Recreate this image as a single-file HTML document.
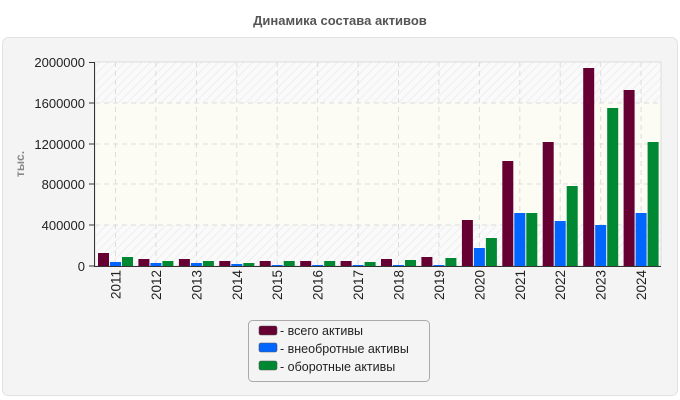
<!DOCTYPE html><html><head><meta charset="utf-8"><style>body{margin:0;background:#fff}svg{display:block;font-family:"Liberation Sans",sans-serif}</style></head><body>
<svg width="680" height="400" xmlns="http://www.w3.org/2000/svg">
<defs><pattern id="h" width="6" height="6" patternUnits="userSpaceOnUse" patternTransform="rotate(-45)"><rect width="6" height="6" fill="#fafafa"/><line x1="0" y1="0" x2="6" y2="0" stroke="#eeeeee" stroke-width="2"/></pattern></defs>
<text x="340" y="25" text-anchor="middle" font-size="13" font-weight="bold" fill="#555">Динамика состава активов</text>
<rect x="2.5" y="37.5" width="675" height="358" rx="6" fill="#f4f4f4" stroke="#e2e2e2"/>
<rect x="95" y="62" width="566" height="204" fill="url(#h)"/>
<rect x="95" y="103" width="566" height="122" fill="#fcfcf4"/>
<rect x="95" y="62" width="566" height="204" fill="none" stroke="#ddd"/>
<g stroke="#dcdcdc" stroke-dasharray="5,4">
<line x1="95" x2="661" y1="103" y2="103"/><line x1="95" x2="661" y1="144" y2="144"/><line x1="95" x2="661" y1="184" y2="184"/><line x1="95" x2="661" y1="225" y2="225"/>
<line x1="115.5" x2="115.5" y1="62" y2="266"/><line x1="155.9" x2="155.9" y1="62" y2="266"/><line x1="196.4" x2="196.4" y1="62" y2="266"/><line x1="236.8" x2="236.8" y1="62" y2="266"/><line x1="277.2" x2="277.2" y1="62" y2="266"/><line x1="317.7" x2="317.7" y1="62" y2="266"/><line x1="358.1" x2="358.1" y1="62" y2="266"/><line x1="398.5" x2="398.5" y1="62" y2="266"/><line x1="438.9" x2="438.9" y1="62" y2="266"/><line x1="479.4" x2="479.4" y1="62" y2="266"/><line x1="519.8" x2="519.8" y1="62" y2="266"/><line x1="560.2" x2="560.2" y1="62" y2="266"/><line x1="600.7" x2="600.7" y1="62" y2="266"/><line x1="641.1" x2="641.1" y1="62" y2="266"/>
</g>
<g fill="#660033">
<rect x="98" y="253" width="11" height="13"/><rect x="138.4" y="259" width="11" height="7"/><rect x="178.9" y="259" width="11" height="7"/><rect x="219.3" y="261" width="11" height="5"/><rect x="259.7" y="261" width="11" height="5"/><rect x="300.2" y="261" width="11" height="5"/><rect x="340.6" y="261" width="11" height="5"/><rect x="381" y="259" width="11" height="7"/><rect x="421.4" y="257" width="11" height="9"/><rect x="461.9" y="220" width="11" height="46"/><rect x="502.3" y="161" width="11" height="105"/><rect x="542.7" y="142" width="11" height="124"/><rect x="583.2" y="68" width="11" height="198"/><rect x="623.6" y="90" width="11" height="176"/>
</g>
<g fill="#0066ff">
<rect x="110" y="262" width="11" height="4"/><rect x="150.4" y="263" width="11" height="3"/><rect x="190.9" y="263" width="11" height="3"/><rect x="231.3" y="264" width="11" height="2"/><rect x="271.7" y="265" width="11" height="1"/><rect x="312.2" y="265" width="11" height="1"/><rect x="352.6" y="265" width="11" height="1"/><rect x="393" y="265" width="11" height="1"/><rect x="433.4" y="265" width="11" height="1"/><rect x="473.9" y="248" width="11" height="18"/><rect x="514.3" y="213" width="11" height="53"/><rect x="554.7" y="221" width="11" height="45"/><rect x="595.2" y="225" width="11" height="41"/><rect x="635.6" y="213" width="11" height="53"/>
</g>
<g fill="#008833">
<rect x="122" y="257" width="11" height="9"/><rect x="162.4" y="261" width="11" height="5"/><rect x="202.9" y="261" width="11" height="5"/><rect x="243.3" y="263" width="11" height="3"/><rect x="283.7" y="261" width="11" height="5"/><rect x="324.2" y="261" width="11" height="5"/><rect x="364.6" y="262" width="11" height="4"/><rect x="405" y="260" width="11" height="6"/><rect x="445.4" y="258" width="11" height="8"/><rect x="485.9" y="238" width="11" height="28"/><rect x="526.3" y="213" width="11" height="53"/><rect x="566.7" y="186" width="11" height="80"/><rect x="607.2" y="108" width="11" height="158"/><rect x="647.6" y="142" width="11" height="124"/>
</g>
<line x1="94.5" y1="62" x2="94.5" y2="266.5" stroke="#333"/><line x1="94" y1="266.5" x2="661" y2="266.5" stroke="#333"/>
<g stroke="#333"><line x1="89" x2="95" y1="62.5" y2="62.5"/><line x1="89" x2="95" y1="103" y2="103"/><line x1="89" x2="95" y1="144" y2="144"/><line x1="89" x2="95" y1="184" y2="184"/><line x1="89" x2="95" y1="225" y2="225"/><line x1="89" x2="95" y1="266" y2="266"/></g>
<g font-size="13" fill="#222" text-anchor="end">
<text x="85" y="67">2000000</text><text x="85" y="108">1600000</text><text x="85" y="149">1200000</text><text x="85" y="189">800000</text><text x="85" y="230">400000</text><text x="85" y="271">0</text></g>
<text transform="translate(24,164) rotate(-90)" text-anchor="middle" font-size="12" font-weight="bold" fill="#888">тыс.</text>
<g font-size="13.5" fill="#222" text-anchor="end">
<text transform="translate(120.5,270) rotate(-90)">2011</text><text transform="translate(160.9,270) rotate(-90)">2012</text><text transform="translate(201.4,270) rotate(-90)">2013</text><text transform="translate(241.8,270) rotate(-90)">2014</text><text transform="translate(282.2,270) rotate(-90)">2015</text><text transform="translate(322.7,270) rotate(-90)">2016</text><text transform="translate(363.1,270) rotate(-90)">2017</text><text transform="translate(403.5,270) rotate(-90)">2018</text><text transform="translate(443.9,270) rotate(-90)">2019</text><text transform="translate(484.4,270) rotate(-90)">2020</text><text transform="translate(524.8,270) rotate(-90)">2021</text><text transform="translate(565.2,270) rotate(-90)">2022</text><text transform="translate(605.7,270) rotate(-90)">2023</text><text transform="translate(646.1,270) rotate(-90)">2024</text></g>
<rect x="248.5" y="320.5" width="181" height="61" rx="4" fill="#f4f4f4" stroke="#aaa"/>
<rect x="259" y="326" width="18" height="9" rx="2" fill="#660033" stroke="#555" stroke-width="0.6"/>
<rect x="259" y="343" width="18" height="9" rx="2" fill="#0066ff" stroke="#555" stroke-width="0.6"/>
<rect x="259" y="361" width="18" height="9" rx="2" fill="#008833" stroke="#555" stroke-width="0.6"/>
<g font-size="12.5" fill="#222"><text x="280" y="335">- всего активы</text><text x="280" y="353">- внеобротные активы</text><text x="280" y="371">- оборотные активы</text></g>
</svg></body></html>
